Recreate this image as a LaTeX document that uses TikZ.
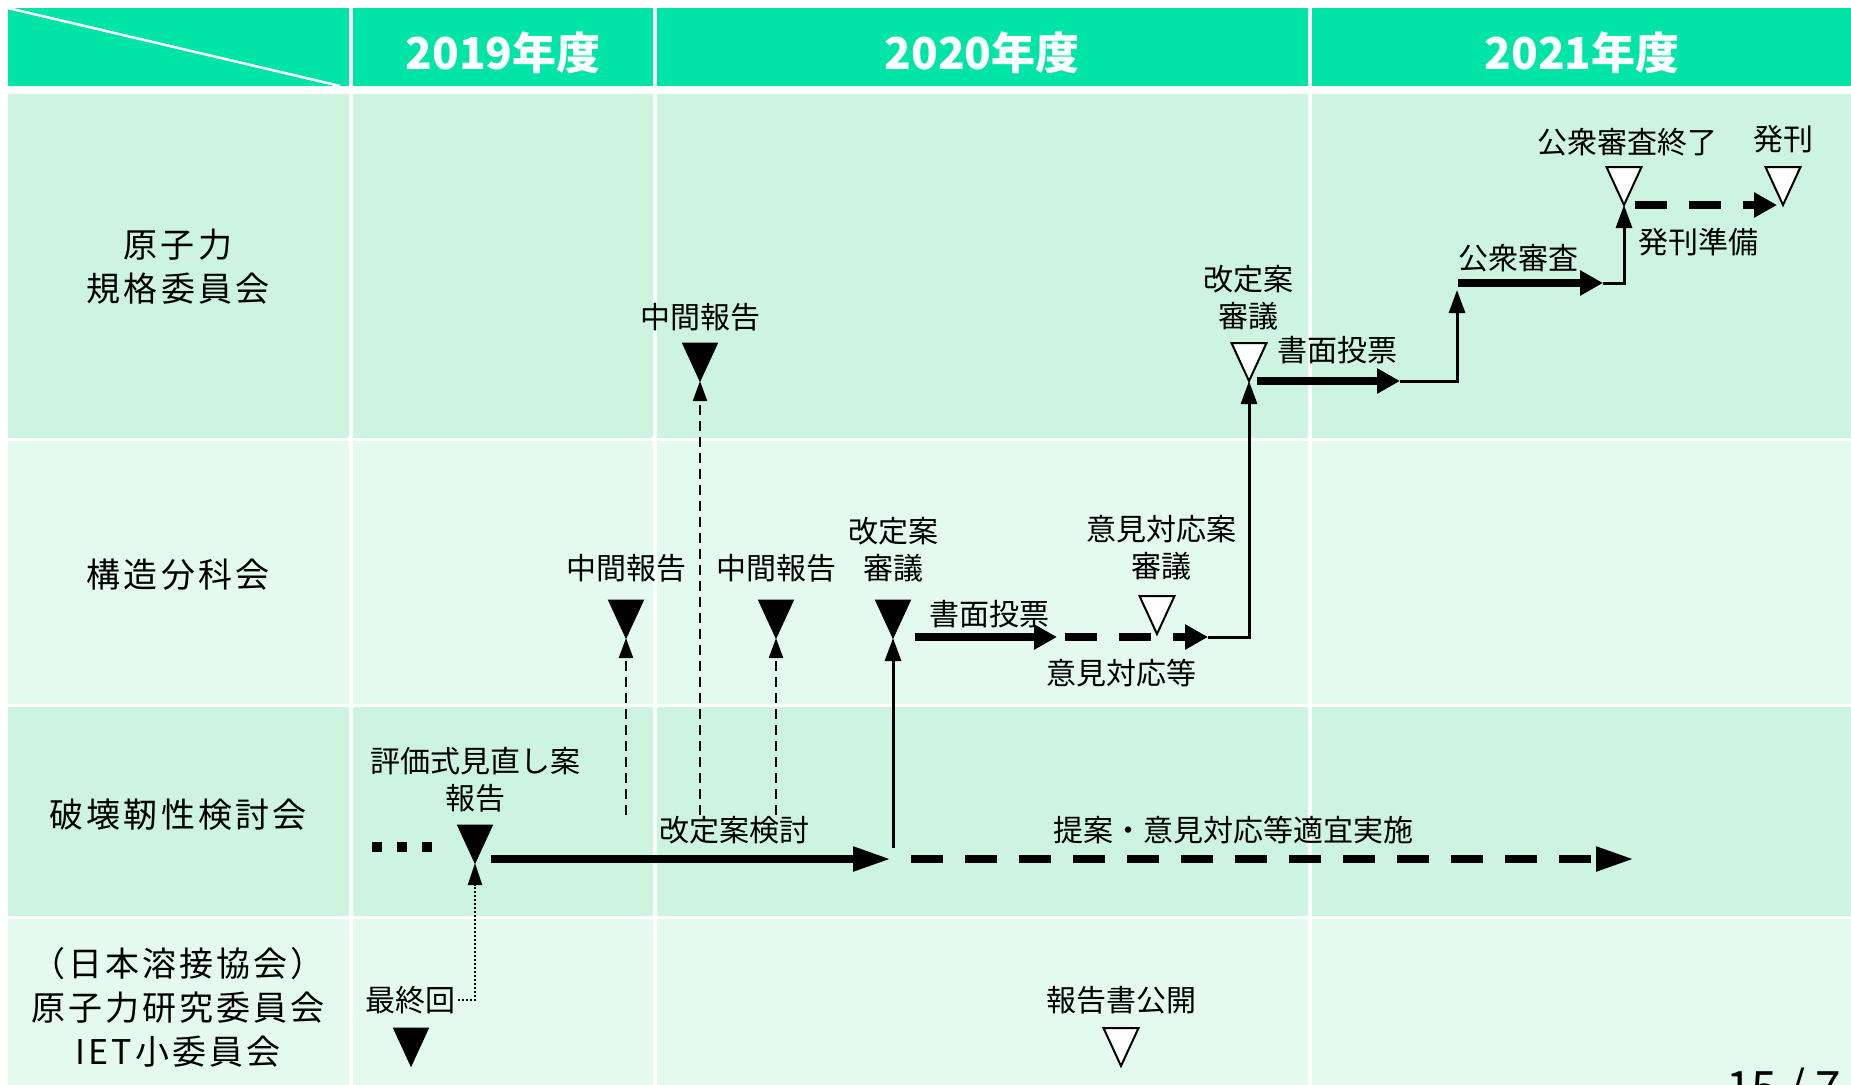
\documentclass[tikz,border=0pt]{standalone}
\usepackage{fontspec}
\setmainfont{Noto Sans CJK JP}
\newfontfamily\jprow[LetterSpace=9]{Noto Sans CJK JP}
\usetikzlibrary{arrows.meta}
\definecolor{hdr}{RGB}{0,228,168}
\definecolor{rowA}{RGB}{204,244,224}
\definecolor{rowB}{RGB}{228,249,240}
\newcommand\mstone[4]{%
  \draw[#4] (#2,#3) ++(-17.5,0) -- ++(35,0) -- ++(-17.5,38) -- cycle;
  \coordinate (#1) at (#2,#3+38);}
\begin{document}
\begin{tikzpicture}[x=1pt,y=-1pt,
  lbl/.style={font=\fontsize{30}{37}\selectfont, inner sep=0pt, align=center},
  rowlbl/.style={font=\jprow\fontsize{34}{44}\selectfont, inner sep=0pt, align=center},
  hdrlbl/.style={font=\bfseries\fontsize{44}{50}\selectfont, text=white, inner sep=0pt},
  blk/.style={fill=black, draw=black, line width=1pt, line join=miter},
  wht/.style={fill=white, draw=black, line width=2pt, line join=miter},
  thinArr/.style={line width=3pt, -{Triangle[length=23pt,width=16pt]}},
  dashArr/.style={line width=2.2pt, dash pattern=on 10pt off 6pt, -{Triangle[length=20pt,width=14pt]}},
  dotArr/.style={line width=2pt, dash pattern=on 2pt off 2pt, -{Triangle[length=22pt,width=14pt]}},
  bigArr/.style={line width=8pt, -{Triangle[length=23pt,width=24pt]}},
  bigArrL/.style={line width=8pt, -{Triangle[length=38pt,width=23pt]}},
  bigDash/.style={bigArr, dash pattern=on 32pt off 22pt},
  bigDashL/.style={bigArrL, dash pattern=on 32pt off 22pt}]
\useasboundingbox (0,0) rectangle (1851,1084);
\fill[white] (0,0) rectangle (1851,1084);
% header
\foreach \xa/\xb in {8/349,353/653,657/1308,1312/1870}
  \fill[hdr] (\xa,8) rectangle (\xb,86);
\draw[white, line width=2.5pt] (8,8) -- (340,86);
\node[hdrlbl] (h19) at (503,53) {2019年度};
\node[hdrlbl] (h20) at (982,53) {2020年度};
\node[hdrlbl] (h21) at (1582,53) {2021年度};
% body cells
\foreach \ya/\yb/\c in {94/438/rowA,441/704/rowB,707/916/rowA,919/1100/rowB}
  \foreach \xa/\xb in {8/349,353/653,657/1308,1312/1870}
    \fill[\c] (\xa,\ya) rectangle (\xb,\yb);
% row labels
\node[rowlbl] (L1) at (178,267) {原子力\\規格委員会};
\node[rowlbl] (L2) at (178,575) {構造分科会};
\node[rowlbl] (L3) at (178,815) {破壊靭性検討会};
\node[rowlbl] (L4) at (178,1007) {（日本溶接協会）\\原子力研究委員会\\IET小委員会};
% timeline labels
\node[lbl] (tChukanA) at (700,317) {中間報告};
\node[lbl] (tKaiteiA) at (1248,298) {改定案\\審議};
\node[lbl] (tShomenA) at (1337,350) {書面投票};
\node[lbl] (tKoshu) at (1518,258) {公衆審査};
\node[lbl] (tKoshuEnd) at (1627,142) {公衆審査終了};
\node[lbl] (tHakkan) at (1783,139) {発刊};
\node[lbl] (tJunbi) at (1698,242) {発刊準備};
\node[lbl] (tChukanB1) at (626,568) {中間報告};
\node[lbl] (tChukanB2) at (776,568) {中間報告};
\node[lbl] (tKaiteiB) at (893,550) {改定案\\審議};
\node[lbl] (tShomenB) at (989,614) {書面投票};
\node[lbl] (tIkenAn) at (1161,548) {意見対応案\\審議};
\node[lbl] (tIken) at (1121,673) {意見対応等};
\node[lbl] (tHyoka) at (475,780) {評価式見直し案\\報告};
\node[lbl] (tKento) at (734,830) {改定案検討};
\node[lbl] (tTeian) at (1233,830) {提案・意見対応等適宜実施};
\node[lbl] (tFinal) at (410,1000) {最終回};
\node[lbl] (tKokai) at (1121,1000) {報告書公開};
\node[font=\fontsize{46}{48}\selectfont, anchor=north west, inner sep=0pt] (pg) at (1726,1068) {15 / 7};
% milestones
\mstone{mChukanA}{700}{343}{blk}
\mstone{mKaiteiA}{1249}{343}{wht}
\mstone{mKoshuEnd}{1624}{167}{wht}
\mstone{mHakkan}{1783}{167}{wht}
\mstone{mChukanB1}{626}{600}{blk}
\mstone{mChukanB2}{776}{600}{blk}
\mstone{mKaiteiB}{893}{600}{blk}
\mstone{mIken}{1157}{596}{wht}
\mstone{mHyoka}{475}{825}{blk}
\mstone{mFinal}{411}{1028}{blk}
\mstone{mKokai}{1121}{1028}{wht}
% free ends
\coordinate (dA) at (700,815);
\coordinate (dB1) at (626,815);
\coordinate (dB2) at (776,815);
\coordinate (sB) at (893,848);
\coordinate (r3s) at (491,859);
\coordinate (r3e) at (891,859);
\coordinate (r3ds) at (911,859);
\coordinate (r3de) at (1634,859);
\coordinate (r2s) at (915,637);
\coordinate (r2e) at (1057,637);
\coordinate (r2ds) at (1065,637);
\coordinate (r2de) at (1208,637);
\coordinate (r1s) at (1257,381);
\coordinate (r1e) at (1400,381);
\coordinate (r1up) at (1457,290);
\coordinate (k1s) at (1458,283);
\coordinate (k1e) at (1603,283);
\coordinate (hs) at (1635,205);
\coordinate (he) at (1777,205);
% dots
\foreach \x in {372,397,422} \fill[black] (\x,842) rectangle ++(10,10);
% connectors
\draw[dashArr] (dA) -- (mChukanA);
\draw[dashArr] (dB1) -- (mChukanB1);
\draw[dashArr] (dB2) -- (mChukanB2);
\draw[thinArr] (sB) -- (mKaiteiB);
\draw[dotArr] ([xshift=3pt]tFinal.east) -| (mHyoka);
\draw[bigArrL] (r3s) -- (r3e);
\draw[bigDashL] (r3ds) -- (r3de);
\draw[bigArr] (r2s) -- (r2e);
\draw[bigDash] (r2ds) -- (r2de);
\draw[thinArr] (r2de) -| (mKaiteiA);
\draw[bigArr] (r1s) -- (r1e);
\draw[thinArr] (r1e) -| (r1up);
\draw[bigArr] (k1s) -- (k1e);
\draw[thinArr] (k1e) -| (mKoshuEnd);
\draw[bigDash] (hs) -- (he);
\end{tikzpicture}
\end{document}
